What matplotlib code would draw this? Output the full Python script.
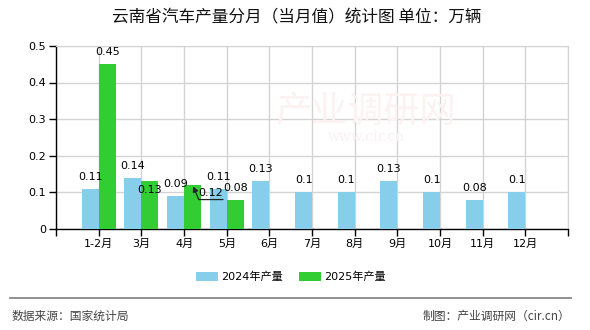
import matplotlib
matplotlib.use("Agg")
import matplotlib.pyplot as plt
import numpy as np

plt.rcParams['font.family'] = ['DejaVu Sans', 'Noto Sans CJK SC']

# monthly output, 10k vehicles
months = ['1-2月', '3月', '4月', '5月', '6月', '7月', '8月', '9月', '10月', '11月', '12月']
out_2024 = [0.11, 0.14, 0.09, 0.11, 0.13, 0.1, 0.1, 0.13, 0.1, 0.08, 0.1]
out_2025 = [0.45, 0.13, 0.12, 0.08]
y_ticks = [0, 0.1, 0.2, 0.3, 0.4, 0.5]
y_tick_labels = ['0', '0.1', '0.2', '0.3', '0.4', '0.5']

c24 = '#87ceeb'
c25 = '#32cd32'
grid_c = '#d3d3d3'
w = 0.4

fig = plt.figure(figsize=(5.9, 3.3), dpi=100)
ax = fig.add_axes([0.095, 0.306, 0.868, 0.555])

x24 = np.arange(len(out_2024))
x25 = np.arange(len(out_2025))
b24 = ax.bar(x24 - w / 2, out_2024, w, color=c24, label='2024年产量', zorder=3)
b25 = ax.bar(x25 + w / 2, out_2025, w, color=c25, label='2025年产量', zorder=3)

ax.set_xlim(-1, 11)
ax.set_ylim(0, 0.5)
ax.set_yticks(y_ticks)
ax.set_yticklabels(y_tick_labels, fontsize=8)
ax.set_xticks(range(-1, 12))
ax.set_xticklabels([''] + months + [''], fontsize=8)
ax.tick_params(direction='out', length=5, width=1, colors='black', pad=2)

ax.grid(True, color=grid_c, lw=1, zorder=0)
for s in ['top', 'right']:
    ax.spines[s].set_color(grid_c)
ax.spines['left'].set_linewidth(1)
ax.spines['bottom'].set_linewidth(1)

# value labels; a few are moved to avoid overlapping
label_off = {('2025', 1): (0, -9)}
for key, xs, vals, dx in [('2024', x24, out_2024, -w / 2), ('2025', x25, out_2025, w / 2)]:
    for i, v in zip(xs, vals):
        if key == '2025' and i == 2:
            # crowded label pushed aside with a leader line back to the bar
            ax.annotate(f'{v:g}', xy=(i + dx, v), xytext=(18, -8),
                        textcoords='offset pixels', ha='center', va='center', fontsize=8,
                        zorder=6,
                        arrowprops=dict(arrowstyle='-|>', color='#222222', lw=0.9,
                                        mutation_scale=8, relpos=(1, -0.15), patchA=None,
                                        shrinkA=0, shrinkB=1,
                                        connectionstyle='angle,angleA=0,angleB=-67,rad=0'))
            continue
        off = label_off.get((key, i), (0, 12))
        ax.annotate(f'{v:g}', xy=(i + dx, v), xytext=off, textcoords='offset pixels',
                    ha='center', va='center', fontsize=8, zorder=5)

# faint site watermark
fig.text(0.62, 0.66, '产业调研网', fontsize=26, color='#fcf2f2', ha='center', va='center',
         family='Noto Sans CJK SC', zorder=0)
fig.text(0.62, 0.585, 'www.cir.cn', fontsize=10, color='#f9f1f1', ha='center', va='center',
         family='DejaVu Serif', zorder=0)

fig.text(0.503, 0.947, '云南省汽车产量分月（当月值）统计图 单位：万辆', fontsize=12,
         ha='center', va='center', family='Noto Sans CJK SC', color='#111111')

fig.legend(handles=[b24, b25], loc='center', bbox_to_anchor=(0.493, 0.161), ncol=2,
           frameon=False, fontsize=8, handlelength=2.0, handleheight=0.8,
           columnspacing=1.4, handletextpad=0.3)

fig.add_artist(plt.Line2D([0.017, 0.968], [0.097, 0.097], color='#888888', lw=1.3))
fig.text(0.02, 0.042, '数据来源：国家统计局', fontsize=8.5, color='#444444',
         ha='left', va='center', family='Noto Sans CJK SC')
fig.text(0.966, 0.042, '制图：产业调研网（cir.cn）', fontsize=8.5, color='#444444',
         ha='right', va='center', family='Noto Sans CJK SC')

fig.savefig('out.png', dpi=100)
